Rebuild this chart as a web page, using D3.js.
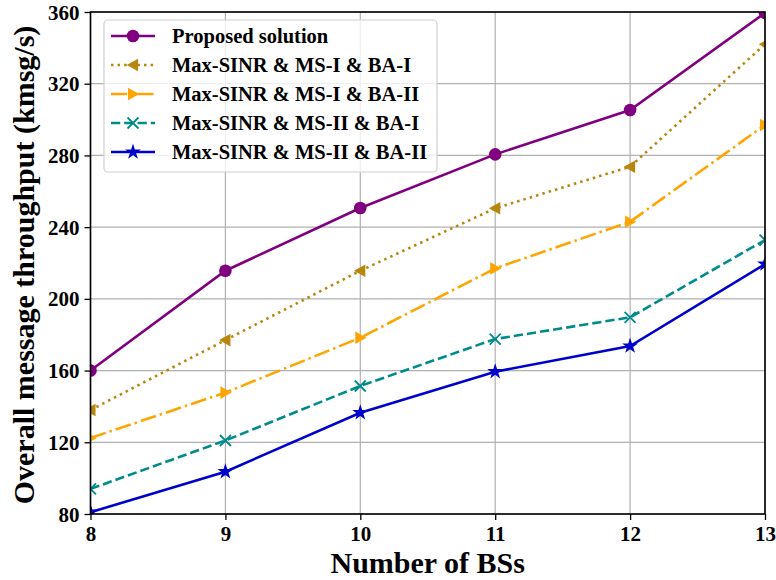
<!DOCTYPE html>
<html><head><meta charset="utf-8">
<script src="https://cdn.jsdelivr.net/npm/d3@7"></script>
<style>body{margin:0;background:#fff}svg{display:block}text{font-family:"Liberation Serif","Times New Roman",serif;font-weight:bold}</style>
</head><body>
<svg id="c" width="776" height="580"></svg>
<script>
const bs = [8, 9, 10, 11, 12, 13];
const proposed = [160, 215.7, 250.7, 280.6, 305.3, 359.5];
const msIbaI = [138, 177, 215.7, 250.5, 273.7, 342];
const msIbaII = [122.4, 147.7, 178.3, 217, 243, 297];
const msIIbaI = [94, 121, 151.4, 177.6, 189.7, 232.8];
const msIIbaII = [81, 103.6, 136.5, 159.4, 173.7, 219.4];
const yTicks = [80, 120, 160, 200, 240, 280, 320, 360];
const xTicks = [8, 9, 10, 11, 12, 13];
const seriesNames = ["Proposed solution", "Max-SINR & MS-I & BA-I", "Max-SINR & MS-I & BA-II", "Max-SINR & MS-II & BA-I", "Max-SINR & MS-II & BA-II"];

const series = [
  {name: seriesNames[0], vals: proposed, color: "#800080", dash: null, marker: "circle"},
  {name: seriesNames[1], vals: msIbaI, color: "#b8860b", dash: "2.5,4.1", marker: "tleft"},
  {name: seriesNames[2], vals: msIbaII, color: "#ffa500", dash: "16,4,2.5,4", marker: "tright"},
  {name: seriesNames[3], vals: msIIbaI, color: "#008b8b", dash: "9.25,4", marker: "x"},
  {name: seriesNames[4], vals: msIIbaII, color: "#0000cd", dash: null, marker: "star"}
];

const L = 90.5, R = 765, T = 12, B = 514;
const svg = d3.select("#c");
const x = d3.scaleLinear().domain([8, 13]).range([L, R]);
const y = d3.scaleLinear().domain([80, 360]).range([B, T]);

// grid
const g = svg.append("g");
g.selectAll(".gx").data(xTicks).join("line").attr("x1", d => x(d)).attr("x2", d => x(d)).attr("y1", T).attr("y2", B).attr("stroke", "#b0b0b0").attr("stroke-width", 1.2);
g.selectAll(".gy").data(yTicks).join("line").attr("x1", L).attr("x2", R).attr("y1", d => y(d)).attr("y2", d => y(d)).attr("stroke", "#b0b0b0").attr("stroke-width", 1.2);

// clip
svg.append("clipPath").attr("id", "clip").append("rect").attr("x", L).attr("y", T).attr("width", R - L).attr("height", B - T);

function markerPath(type, s) {
  if (type === "circle") return d3.symbol(d3.symbolCircle, Math.PI * s * s)();
  if (type === "tleft") return `M${-s},0L${s*0.8},${-s}L${s*0.8},${s}Z`;
  if (type === "tright") return `M${s},0L${-s*0.8},${-s}L${-s*0.8},${s}Z`;
  if (type === "x") return `M${-s},${-s}L${s},${s}M${-s},${s}L${s},${-s}`;
  if (type === "star") return d3.symbol(d3.symbolStar, s * s * 2.2)();
}
const msize = {circle: 6.3, tleft: 6.3, tright: 6.3, x: 5.5, star: 6};

const plot = svg.append("g").attr("clip-path", "url(#clip)");
const line = d3.line().x((d, i) => x(bs[i])).y(d => y(d));
series.forEach(s => {
  plot.append("path").attr("d", line(s.vals)).attr("fill", "none").attr("stroke", s.color).attr("stroke-width", 2.6).attr("stroke-dasharray", s.dash);
  s.vals.forEach((v, i) => {
    const p = plot.append("path").attr("d", markerPath(s.marker, msize[s.marker])).attr("transform", `translate(${x(bs[i])},${y(v)})`);
    if (s.marker === "x") p.attr("fill", "none").attr("stroke", s.color).attr("stroke-width", 1.8);
    else p.attr("fill", s.color);
  });
});

// axes
const xa = svg.append("g").attr("transform", `translate(0,${B})`).call(d3.axisBottom(x).tickValues(xTicks).tickSize(6).tickFormat(d3.format("d")));
const ya = svg.append("g").attr("transform", `translate(${L},0)`).call(d3.axisLeft(y).tickValues(yTicks).tickSize(6));
[xa, ya].forEach(a => {
  a.select(".domain").remove();
  a.selectAll("line").attr("stroke", "#000").attr("stroke-width", 1.3);
  a.selectAll("text").attr("font-size", 21).attr("fill", "#000").attr("font-family", "Liberation Serif").attr("font-weight", "bold");
});
xa.selectAll("text").attr("y", 12).attr("dy", "0.71em");
ya.selectAll("text").attr("dx", "-0.1em").attr("dy", "0.34em");
svg.append("rect").attr("x", L).attr("y", T).attr("width", R - L).attr("height", B - T).attr("fill", "none").attr("stroke", "#000").attr("stroke-width", 1.6);

// labels
svg.append("text").attr("x", (L + R) / 2).attr("y", 573).attr("text-anchor", "middle").attr("font-size", 30).text("Number of BSs");
svg.append("text").attr("transform", `translate(34,${(T + B) / 2 + 2}) rotate(-90)`).attr("text-anchor", "middle").attr("font-size", 30).text("Overall message throughput (kmsg/s)");

// legend
const lg = svg.append("g");
lg.append("rect").attr("x", 104).attr("y", 20).attr("width", 333).attr("height", 152).attr("rx", 4).attr("fill", "#fff").attr("fill-opacity", 0.8).attr("stroke", "#d0d0d0").attr("stroke-width", 1.2);
series.forEach((s, i) => {
  const cy = 36 + i * 29;
  lg.append("line").attr("x1", 111).attr("x2", 155).attr("y1", cy).attr("y2", cy).attr("stroke", s.color).attr("stroke-width", 2.6).attr("stroke-dasharray", s.dash);
  const p = lg.append("path").attr("d", markerPath(s.marker, msize[s.marker])).attr("transform", `translate(133,${cy})`);
  if (s.marker === "x") p.attr("fill", "none").attr("stroke", s.color).attr("stroke-width", 1.8);
  else p.attr("fill", s.color);
  lg.append("text").attr("x", 172).attr("y", cy).attr("dy", "0.35em").attr("font-size", 20.5).text(s.name);
});
</script>
</body></html>
